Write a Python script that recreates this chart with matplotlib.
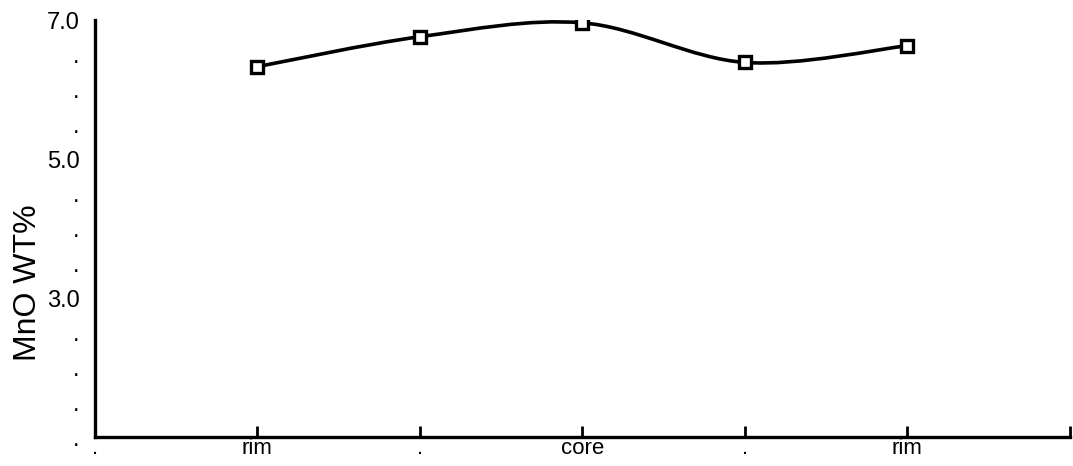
import numpy as np
import matplotlib.pyplot as plt
from matplotlib.path import Path
from matplotlib.patches import PathPatch

plt.rcParams['font.family'] = ['Liberation Sans', 'DejaVu Sans']

# profile across the grain, rim -> core -> rim
positions = [1, 2, 3, 4, 5]
mno = [6.33, 6.76, 6.96, 6.39, 6.63]
xtick_pos = [0, 1, 2, 3, 4, 5, 6]
xtick_labels = ['.', 'rim', '.', 'core', '.', 'rim', '']
ytick_pos = [1.0, 1.5, 2.0, 2.5, 3.0, 3.5, 4.0, 4.5, 5.0, 5.5, 6.0, 6.5, 7.0]
ytick_labels = ['.', '.', '.', '.', '3.0', '.', '.', '.', '5.0', '.', '.', '.', '7.0']

fig = plt.figure(figsize=(10.73, 4.66), dpi=100)
ax = fig.add_axes([0.0885, 0.062, 0.9085, 0.895])

# smooth curve through the points (catmull-rom as bezier segments)
px = np.array(positions, dtype=float)
py = np.array(mno, dtype=float)
verts = [(px[0], py[0])]
codes = [Path.MOVETO]
n = len(px)
for i in range(n - 1):
    p0 = np.array([px[max(i - 1, 0)], py[max(i - 1, 0)]])
    p1 = np.array([px[i], py[i]])
    p2 = np.array([px[i + 1], py[i + 1]])
    p3 = np.array([px[min(i + 2, n - 1)], py[min(i + 2, n - 1)]])
    c1 = p1 + (p2 - p0) / 6
    c2 = p2 - (p3 - p1) / 6
    verts += [tuple(c1), tuple(c2), tuple(p2)]
    codes += [Path.CURVE4] * 3
ax.add_patch(PathPatch(Path(verts, codes), facecolor='none', edgecolor='black', lw=2.6))

ax.plot(positions, mno, linestyle='none', marker='s', markersize=9,
        markerfacecolor='white', markeredgecolor='black', markeredgewidth=2.4)

ax.set_xlim(0, 6)
ax.set_ylim(1.0, 7.0)
ax.spines['top'].set_visible(False)
ax.spines['right'].set_visible(False)
ax.spines['left'].set_linewidth(2.4)
ax.spines['bottom'].set_linewidth(2.4)

ax.set_xticks(xtick_pos)
ax.set_xticklabels(xtick_labels, fontsize=16)
ax.tick_params(axis='x', direction='in', length=8, width=2, pad=1)
ax.set_yticks(ytick_pos)
ax.set_yticklabels(ytick_labels, fontsize=17)
ax.tick_params(axis='y', length=0, pad=11)

ax.set_ylabel('MnO WT%', fontsize=23)
ax.yaxis.set_label_coords(-0.053, 0.37)

fig.savefig('out.png', dpi=100)
